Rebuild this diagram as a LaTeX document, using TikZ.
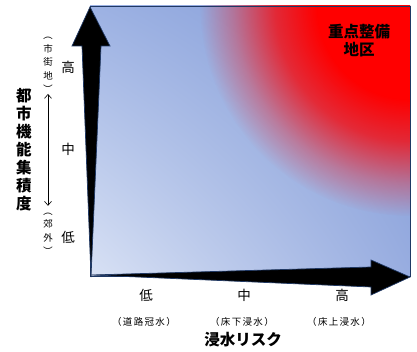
\documentclass[tikz,border=0pt]{standalone}
\usepackage{fontspec}
\setmainfont{Noto Sans CJK JP}
\usepackage{graphicx}
\usetikzlibrary{arrows.meta,fadings,shadings}
\definecolor{navy}{HTML}{1F3864}
\definecolor{bgLL}{HTML}{D8E1F4}
\definecolor{bgUL}{HTML}{9DB2E3}
\definecolor{bgLR}{HTML}{98ADE0}
\definecolor{bgUR}{HTML}{7F98D6}
\pgfdeclareradialshading{redfadeshade}{\pgfpointorigin}{color(0bp)=(pgftransparent!0); color(11bp)=(pgftransparent!0); color(16bp)=(pgftransparent!25); color(21bp)=(pgftransparent!70); color(25bp)=(pgftransparent!100); color(50bp)=(pgftransparent!100)}
\pgfdeclarefading{redfade}{\pgfuseshading{redfadeshade}}
\newcommand{\vpL}{\rotatebox[origin=c]{-90}{（}}
\newcommand{\vpR}{\rotatebox[origin=c]{-90}{）}}
\begin{document}
\begin{tikzpicture}[x=1pt,y=1pt,
  arrowshape/.style={fill=black,draw=navy,line width=0.7pt,line join=miter},
  lvl/.style={font=\fontsize{13.5}{15}\selectfont,inner sep=0pt},
  small/.style={font=\fontsize{9.5}{13}\selectfont\addfontfeature{LetterSpace=14},inner sep=0pt,align=center},
  vsmall/.style={font=\fontsize{9.5}{13.5}\selectfont,inner sep=0pt,align=center},
  ttl/.style={font=\bfseries\fontsize{15.5}{18}\selectfont,inner sep=0pt,align=center}]
\useasboundingbox (0,0) rectangle (417,351);
% background
\shade[lower left=bgLL, upper left=bgUL, lower right=bgLR, upper right=bgUR] (90,75) rectangle (410,345);
\begin{scope}
\clip (90,75) rectangle (410,345);
\fill[red, path fading=redfade] (410,345) circle (210);
\end{scope}
\draw[navy, line width=0.8pt] (90,75) rectangle (410,345);
% axes arrows
\path[arrowshape] (91,74) -- (82,305) -- (72,305) -- (90,344) -- (110,305) -- (101,305) -- cycle;
\path[arrowshape] (91,76) -- (371,84) -- (371,91) -- (410,74) -- (371,56) -- (371,64) -- cycle;
% top right label
\node[ttl] (zt) at (359,310) {重点整備\\地区};
% left labels
\node[ttl] (ylab) at (24,201) {都\\市\\機\\能\\集\\積\\度};
\node[vsmall] (sgc) at (48,289) {\vpL\\市\\街\\地\\\vpR};
\node[vsmall] (kg) at (48,120) {\vpL\\郊\\外\\\vpR};
\draw[<->, >={Straight Barb[length=4pt,width=7pt]}, line width=0.6pt] (sgc.south) -- (kg.north);
\node[lvl] (yh) at (68,284) {高};
\node[lvl] (ym) at (68,202) {中};
\node[lvl] (yl) at (68,114) {低};
% bottom labels
\node[lvl] (xl) at (146,56) {低};
\node[lvl] (xm) at (244,56) {中};
\node[lvl] (xh) at (342,56) {高};
\node[small] (xl2) at (144,29) {（道路冠水）};
\node[small] (xm2) at (242,29) {（床下浸水）};
\node[small] (xh2) at (339,29) {（床上浸水）};
\node[ttl] (xlab) at (243,11) {浸水リスク};
\end{tikzpicture}
\end{document}
